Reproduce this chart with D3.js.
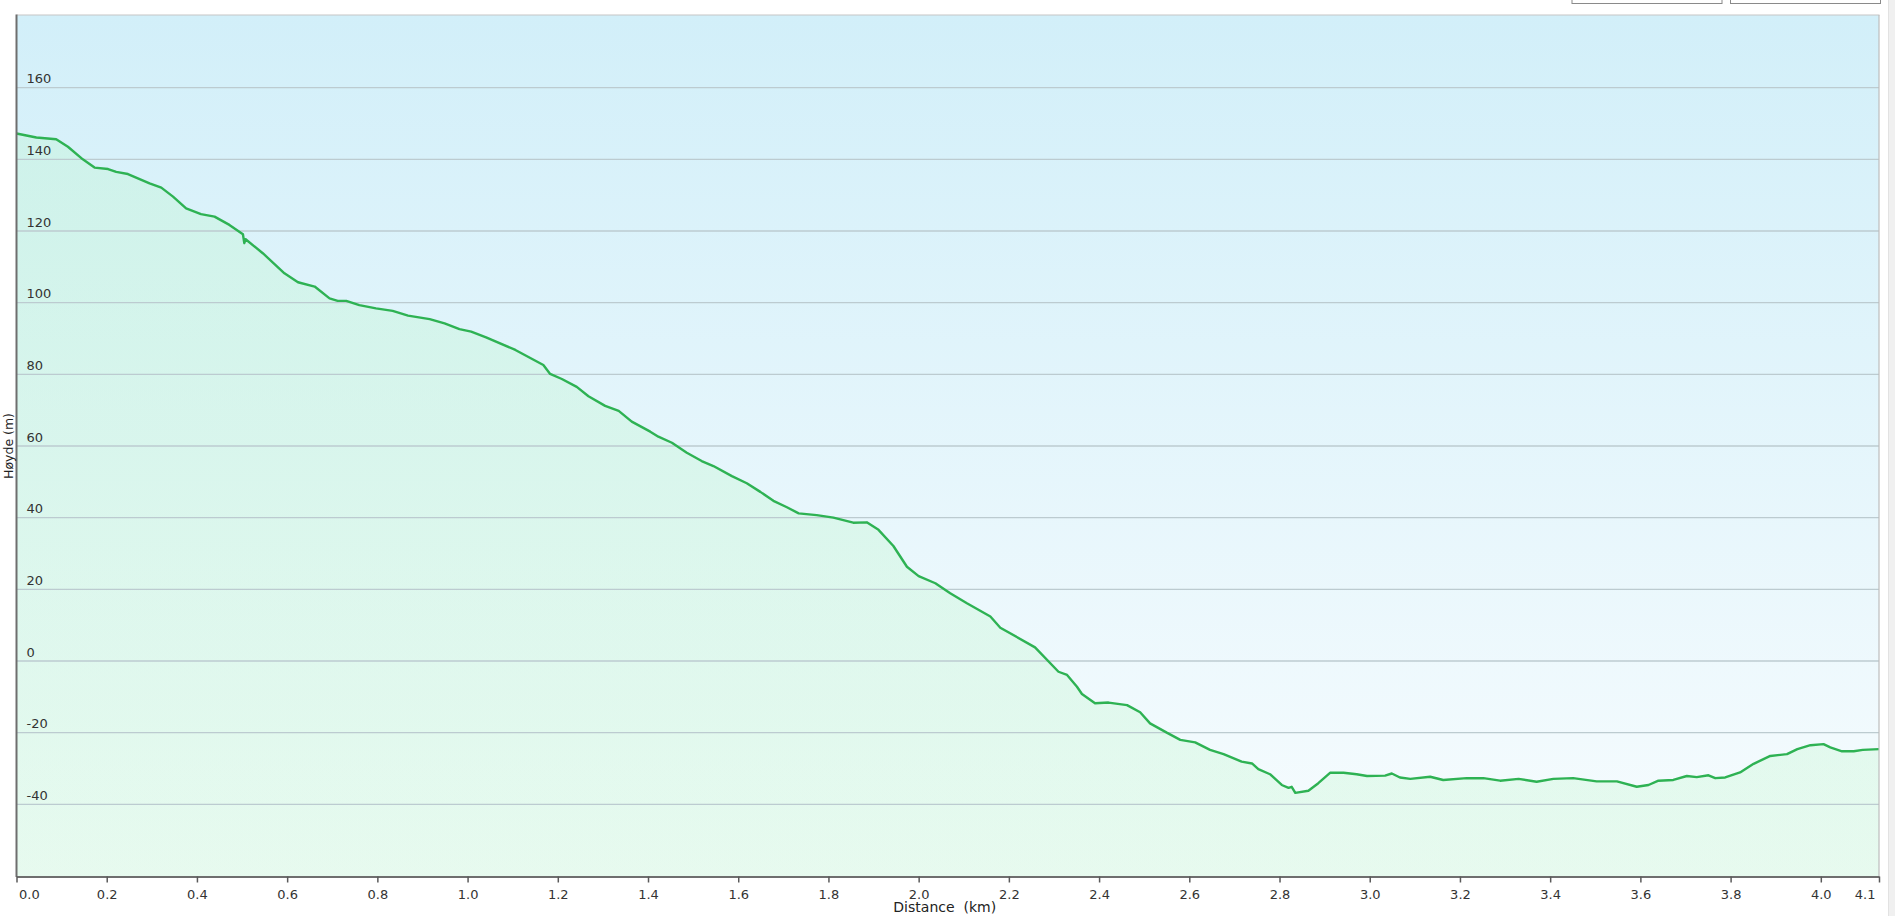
<!DOCTYPE html>
<html>
<head>
<meta charset="utf-8">
<script src="https://cdn.jsdelivr.net/npm/d3@7"></script>
<style>
  html, body { margin: 0; padding: 0; background: #ffffff; overflow: hidden; }
  svg { display: block; font-family: "DejaVu Sans", Verdana, sans-serif; }
</style>
</head>
<body>
<svg id="chart" width="1895" height="916"></svg>
<script>
// ---- data ----
const distanceKm = [
  0.000, 0.044, 0.088, 0.114, 0.147, 0.173, 0.203, 0.221, 0.247, 0.273,
  0.295, 0.321, 0.347, 0.376, 0.409, 0.439, 0.472, 0.502, 0.505, 0.508,
  0.546, 0.594, 0.624, 0.661, 0.694, 0.712, 0.731, 0.760, 0.797, 0.834,
  0.868, 0.916, 0.949, 0.982, 1.008, 1.041, 1.106, 1.168, 1.183, 1.209,
  1.242, 1.268, 1.305, 1.335, 1.364, 1.405, 1.423, 1.453, 1.486, 1.519,
  1.545, 1.586, 1.619, 1.649, 1.678, 1.708, 1.734, 1.774, 1.811, 1.855,
  1.885, 1.911, 1.944, 1.974, 2.000, 2.037, 2.070, 2.107, 2.159, 2.181,
  2.258, 2.310, 2.329, 2.351, 2.362, 2.391, 2.421, 2.462, 2.491, 2.513,
  2.550, 2.580, 2.613, 2.646, 2.676, 2.716, 2.739, 2.753, 2.779, 2.805,
  2.820, 2.827, 2.835, 2.864, 2.886, 2.912, 2.942, 2.971, 2.994, 3.034,
  3.049, 3.067, 3.090, 3.134, 3.163, 3.215, 3.252, 3.289, 3.330, 3.370,
  3.407, 3.451, 3.503, 3.548, 3.592, 3.618, 3.640, 3.673, 3.703, 3.725,
  3.751, 3.766, 3.788, 3.821, 3.851, 3.888, 3.925, 3.948, 3.977, 4.006,
  4.021, 4.047, 4.073, 4.093, 4.129
];
const elevationM = [
  147.2, 146.1, 145.6, 143.5, 140.0, 137.7, 137.3, 136.5, 135.9, 134.5,
  133.3, 132.1, 129.6, 126.3, 124.7, 124.0, 121.7, 119.1, 116.6, 117.7,
  113.8, 108.2, 105.7, 104.5, 101.2, 100.5, 100.5, 99.3, 98.4, 97.7,
  96.4, 95.4, 94.2, 92.6, 91.9, 90.3, 86.8, 82.6, 80.1, 78.7,
  76.5, 73.9, 71.2, 69.8, 66.8, 64.0, 62.6, 60.9, 58.1, 55.8,
  54.4, 51.6, 49.6, 47.2, 44.7, 42.9, 41.2, 40.7, 40.0, 38.6,
  38.7, 36.6, 32.1, 26.3, 23.7, 21.7, 18.9, 16.1, 12.4, 9.3,
  3.8, -3.0, -3.9, -7.2, -9.2, -11.8, -11.6, -12.3, -14.3, -17.4,
  -20.0, -22.0, -22.7, -24.8, -26.0, -28.1, -28.6, -30.2, -31.6, -34.6,
  -35.4, -35.1, -36.8, -36.2, -34.1, -31.2, -31.2, -31.6, -32.1, -32.0,
  -31.4, -32.5, -32.9, -32.3, -33.2, -32.7, -32.7, -33.4, -32.9, -33.7,
  -32.9, -32.7, -33.6, -33.6, -35.1, -34.6, -33.4, -33.2, -32.1, -32.4,
  -31.9, -32.7, -32.5, -31.1, -28.7, -26.5, -26.0, -24.6, -23.5, -23.2,
  -24.1, -25.2, -25.2, -24.8, -24.6
];
const xTickValues = [0.0, 0.2, 0.4, 0.6, 0.8, 1.0, 1.2, 1.4, 1.6, 1.8, 2.0,
                     2.2, 2.4, 2.6, 2.8, 3.0, 3.2, 3.4, 3.6, 3.8, 4.0, 4.129];
const xTickLabels = ["0.0", "0.2", "0.4", "0.6", "0.8", "1.0", "1.2", "1.4", "1.6", "1.8", "2.0",
                     "2.2", "2.4", "2.6", "2.8", "3.0", "3.2", "3.4", "3.6", "3.8", "4.0", "4.1"];
const yTickValues = [-40, -20, 0, 20, 40, 60, 80, 100, 120, 140, 160];
const yTickLabels = ["-40", "-20", "0", "20", "40", "60", "80", "100", "120", "140", "160"];
const xDomain = [0, 4.129];
const yDomain = [-60, 180];
const xTitle = "Distance  (km)";
const yTitle = "Høyde (m)";

(function () {
// ---- layout ----
const W = 1895, H = 916;
const pLeft = 16.5, pRight = 1879, pTop = 16, pBottom = 876;

const svg = d3.select("#chart");
const x = d3.scaleLinear().domain(xDomain).range([pLeft, pRight]);
const y = d3.scaleLinear().domain(yDomain).range([pBottom, pTop]);

const defs = svg.append("defs");
const bg = defs.append("linearGradient").attr("id", "bgGrad")
  .attr("x1", 0).attr("y1", 0).attr("x2", 0).attr("y2", 1);
bg.append("stop").attr("offset", "0%").attr("stop-color", "#d2eff9");
bg.append("stop").attr("offset", "100%").attr("stop-color", "#f7fcfe");

const areaGrad = defs.append("linearGradient").attr("id", "areaGrad")
  .attr("gradientUnits", "userSpaceOnUse")
  .attr("x1", 0).attr("y1", pTop).attr("x2", 0).attr("y2", pBottom);
areaGrad.append("stop").attr("offset", "0%").attr("stop-color", "#b8f5c8").attr("stop-opacity", 0.30);
areaGrad.append("stop").attr("offset", "100%").attr("stop-color", "#c8f7d2").attr("stop-opacity", 0.35);

// top-right buttons (cut off by the window edge)
svg.append("rect").attr("x", 1572).attr("y", -10).attr("width", 150).attr("height", 13.5)
  .attr("fill", "#ffffff").attr("stroke", "#8a8a8a").attr("stroke-width", 1);
svg.append("rect").attr("x", 1730.5).attr("y", -10).attr("width", 150).attr("height", 13.5)
  .attr("fill", "#ffffff").attr("stroke", "#8a8a8a").attr("stroke-width", 1);

// scrollbar strip at right
svg.append("rect").attr("x", 1888).attr("y", 0).attr("width", 7).attr("height", H)
  .attr("fill", "#f0f0f0");
svg.append("line").attr("x1", 1888.5).attr("x2", 1888.5).attr("y1", 0).attr("y2", H)
  .attr("stroke", "#e2e2e2");

// plot background
svg.append("rect").attr("x", pLeft).attr("y", pTop - 1).attr("width", pRight - pLeft).attr("height", pBottom - pTop + 1)
  .attr("fill", "url(#bgGrad)");

// area under the line
const pts = distanceKm.map((d, i) => [d, elevationM[i]]);
svg.append("path").datum(pts)
  .attr("fill", "url(#areaGrad)")
  .attr("d", d3.area().x(d => x(d[0])).y0(pBottom).y1(d => y(d[1])));

// gridlines
svg.append("g").selectAll("line").data(yTickValues).join("line")
  .attr("x1", pLeft).attr("x2", pRight)
  .attr("y1", d => y(d)).attr("y2", d => y(d))
  .attr("stroke", "#bccbd0").attr("stroke-width", 1.4);

// y tick labels (inside the plot)
svg.append("g").selectAll("text").data(yTickValues).join("text")
  .attr("x", 26.5).attr("y", d => y(d) - 4.5)
  .attr("font-size", 13).attr("fill", "#333333")
  .text((d, i) => yTickLabels[i]);

// the line
svg.append("path").datum(pts)
  .attr("fill", "none").attr("stroke", "#2eb253").attr("stroke-width", 2.4)
  .attr("stroke-linejoin", "round")
  .attr("d", d3.line().x(d => x(d[0])).y(d => y(d[1])));

// borders
svg.append("line").attr("x1", pLeft).attr("x2", pRight + 0.5).attr("y1", pTop - 1).attr("y2", pTop - 1)
  .attr("stroke", "#c6c6c6").attr("stroke-width", 1.2);
svg.append("line").attr("x1", pRight).attr("x2", pRight).attr("y1", pTop - 1).attr("y2", pBottom)
  .attr("stroke", "#bdbdbd").attr("stroke-width", 1.2);
svg.append("line").attr("x1", pLeft).attr("x2", pLeft).attr("y1", pTop - 1.5).attr("y2", pBottom + 1)
  .attr("stroke", "#6e6e6e").attr("stroke-width", 2);

// x axis
const xAxis = d3.axisBottom(x).tickValues(xTickValues).tickSize(6).tickSizeOuter(0)
  .tickFormat((d, i) => xTickLabels[i]);
const gx = svg.append("g").attr("transform", `translate(0,${pBottom + 0.5})`).call(xAxis);
gx.select(".domain").attr("stroke", "#6e6e6e").attr("stroke-width", 2);
gx.selectAll(".tick line").attr("stroke", "#5a5a5a").attr("stroke-width", 1.5);
gx.selectAll(".tick text")
  .attr("font-family", "'DejaVu Sans', Verdana, sans-serif")
  .attr("font-size", 13).attr("fill", "#333333")
  .attr("y", 13.5).attr("dy", "0.71em");
gx.selectAll(".tick text").filter((d, i) => i === 0)
  .attr("text-anchor", "start").attr("dx", 2);
gx.selectAll(".tick text").filter((d, i) => i === xTickValues.length - 1)
  .attr("text-anchor", "end").attr("dx", -4);

// axis titles
svg.append("text")
  .attr("transform", `translate(12.5,${(pTop + pBottom) / 2}) rotate(-90)`)
  .attr("text-anchor", "middle").attr("font-size", 12.5).attr("fill", "#222222")
  .text(yTitle);
svg.append("text")
  .attr("x", (pLeft + pRight) / 2 - 3).attr("y", 912)
  .attr("text-anchor", "middle").attr("font-size", 14).attr("fill", "#222222")
  .attr("xml:space", "preserve")
  .text(xTitle);
})();
</script>
</body>
</html>
